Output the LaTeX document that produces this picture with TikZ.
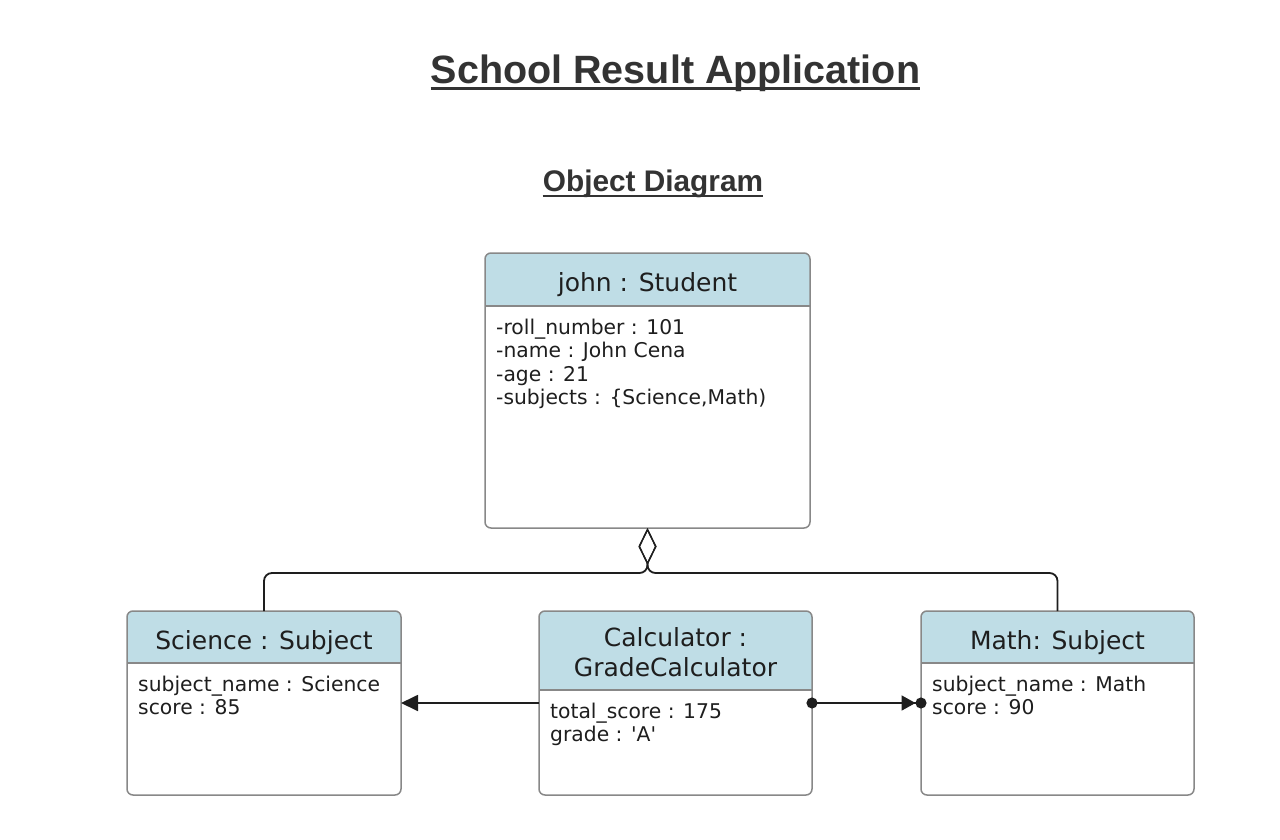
\documentclass[tikz,border=0pt]{standalone}
\usepackage{fontspec}
\newfontfamily\boxfont{DejaVu Sans}
\newfontfamily\titlefont{Liberation Sans}
\usetikzlibrary{arrows.meta}
\definecolor{hdr}{RGB}{191,221,230}
\definecolor{bord}{RGB}{136,136,136}
\definecolor{ink}{RGB}{30,30,30}
\definecolor{ttl}{RGB}{51,51,51}
\tikzset{
  x=1pt, y=-1pt,
  objbox/.style={draw=bord, line width=1.5pt, rounded corners=6pt, inner sep=0pt, outer sep=0pt},
  hdrline/.style={draw=bord, line width=1.5pt},
  hdrtext/.style={inner sep=0pt, text=ink, align=center, font=\boxfont\fontsize{25}{30}\selectfont},
  bodytext/.style={inner sep=0pt, text=ink, align=left, font=\boxfont\fontsize{20.3}{23.6}\selectfont},
  conn/.style={draw=ink, line width=1.8pt},
  titletext/.style={inner sep=0pt, text=ttl, font=\titlefont\bfseries},
  uline/.style={draw=ttl, line width=2.4pt},
}
% name, x1, y1, x2, y2, yh, title, body, title top offset
\newcommand\objbox[9]{%
  \begin{scope}
    \clip[rounded corners=6pt] (#2,#3) rectangle (#4,#5);
    \fill[hdr] (#2,#3) rectangle (#4,#6);
  \end{scope}
  \draw[hdrline] (#2,#6) -- (#4,#6);
  \node[objbox, minimum width={(#4-#2)*1pt}, minimum height={(#5-#3)*1pt}] (#1) at ({(#2+#4)/2},{(#3+#5)/2}) {};
  \node[hdrtext, anchor=north] (#1-title) at ({(#2+#4)/2},{#3+#9}) {#7};
  \node[bodytext, anchor=north west] (#1-body) at ({#2+11},{#6+12.5}) {#8};
}
\begin{document}
\begin{tikzpicture}
\useasboundingbox[fill=white] (0,0) rectangle (1280,840);

% titles
\node[titletext, font=\titlefont\bfseries\fontsize{39.5}{45}\selectfont, anchor=base] (t1) at (675.5,83.5) {School Result Application};
\draw[uline] ([yshift=-5pt]t1.base west) -- ([yshift=-5pt]t1.base east);
\node[titletext, font=\titlefont\bfseries\fontsize{29.8}{34}\selectfont, anchor=base] (t2) at (653,191) {Object Diagram};
\draw[uline, line width=2pt] ([yshift=-4.5pt]t2.base west) -- ([yshift=-4.5pt]t2.base east);

% boxes
\objbox{john}{485}{253}{810}{528}{306}{john : Student}{-roll\_number : 101\\-name : John Cena\\-age : 21\\-subjects : \{Science,Math)}{19.5}
\objbox{sci}{127}{611}{401}{795}{663}{Science : Subject}{subject\_name : Science\\score : 85}{19.5}
\objbox{calc}{539}{611}{812}{795}{690}{Calculator :\\GradeCalculator}{total\_score : 175\\grade : 'A'}{16.5}
\objbox{math}{921}{611}{1194}{795}{663}{Math: Subject}{subject\_name : Math\\score : 90}{19.5}

% aggregation
\draw[conn, {Diamond[open, length=37pt, width=18pt, line width=1.4pt]}-, rounded corners=8pt]
  (john.south) -- ++(0,45) -| (sci.north);
\draw[conn, {Diamond[open, length=37pt, width=18pt, line width=1.4pt]}-, rounded corners=8pt]
  (john.south) -- ++(0,45) -| (math.north);

% associations
\draw[conn, -{Triangle[length=17pt, width=16pt]}] (calc.west) -- (sci.east);
\draw[conn, {Circle[length=11pt, width=11pt]}-{Triangle[length=14pt, width=15pt] Circle[length=11pt, width=11pt]},
  shorten <=-5.5pt, shorten >=-5.5pt] (calc.east) -- (math.west);
\end{tikzpicture}
\end{document}
